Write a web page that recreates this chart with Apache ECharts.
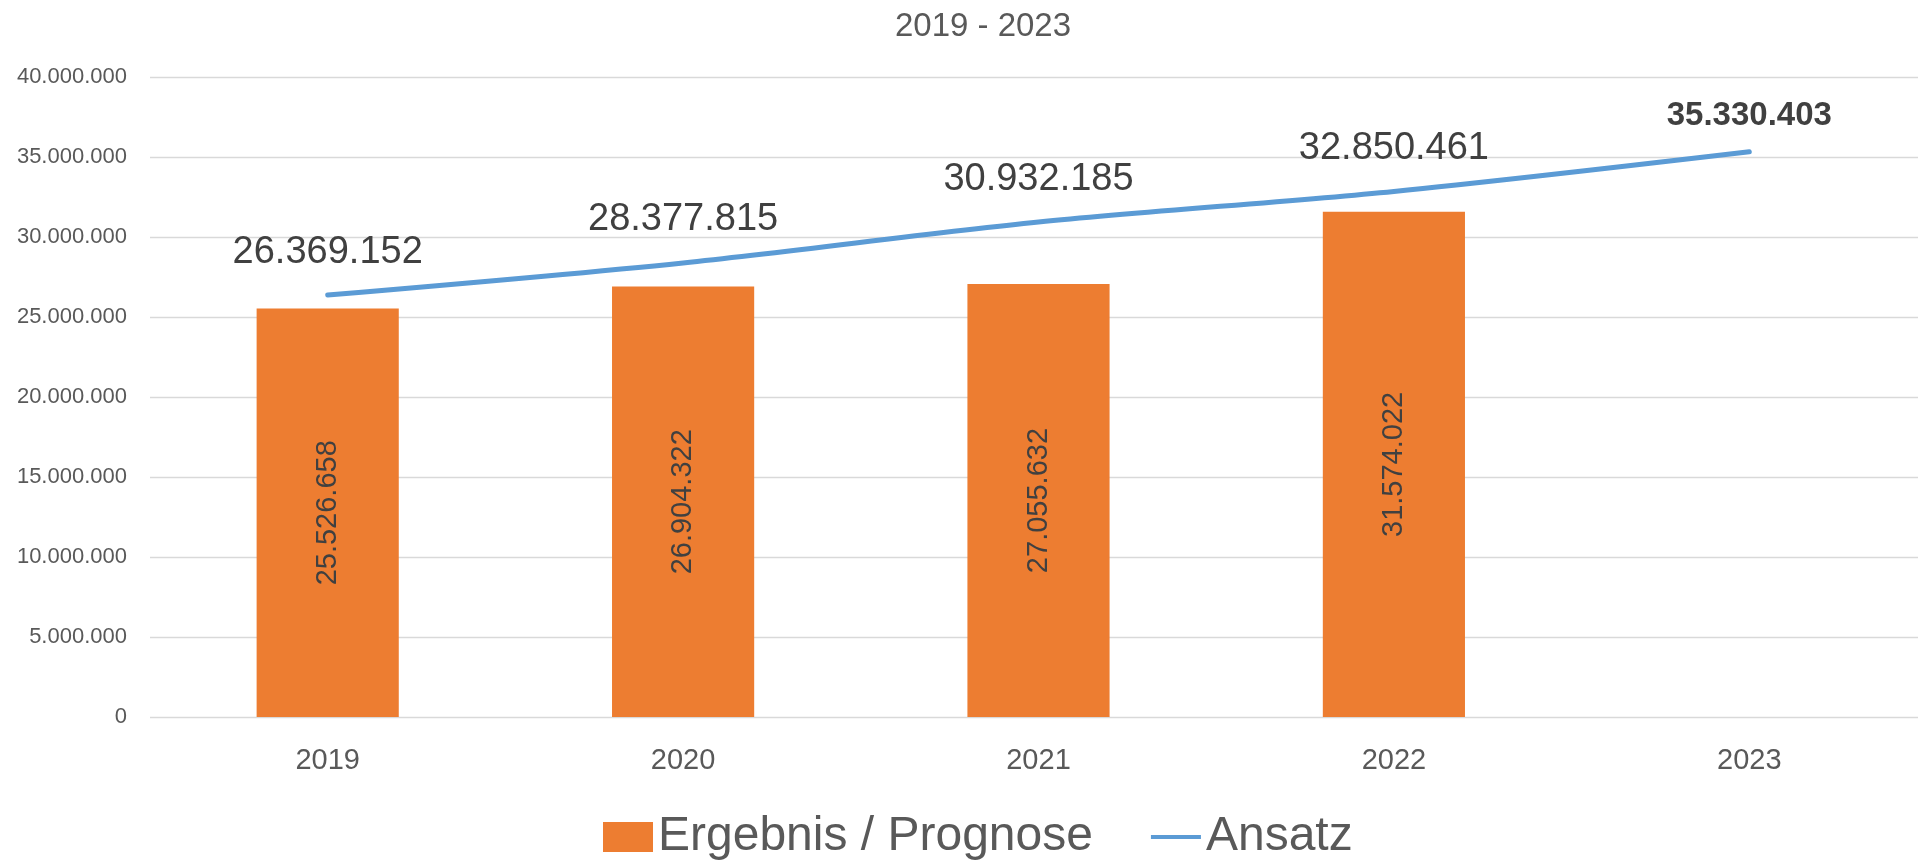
<!DOCTYPE html>
<html>
<head>
<meta charset="utf-8">
<script src="https://cdn.jsdelivr.net/npm/echarts@6/dist/echarts.min.js"></script>
<style>
  html, body { margin: 0; padding: 0; background: #fff; overflow: hidden; }
  #chart { width: 1930px; height: 862px; }
</style>
</head>
<body>
<div id="chart"></div>
<script>
const years = ['2019', '2020', '2021', '2022', '2023']
const ergebnis = [25526658, 26904322, 27055632, 31574022, null]
const ansatz = [26369152, 28377815, 30932185, 32850461, 35330403]
const yTicks = { min: 0, max: 40000000, interval: 5000000 }

const font = '"Liberation Sans", Arial, sans-serif'

// 12345678 -> 12.345.678
function fmt(v) {
  return String(v).replace(/\B(?=(\d{3})+(?!\d))/g, '.')
}

const lineData = ansatz.map((v, i) => {
  if (i === ansatz.length - 1) {
    return { value: v, label: { fontWeight: 'bold', fontSize: 33, distance: 19 } }
  }
  return v
})

const chart = echarts.init(document.getElementById('chart'))
chart.setOption({
  animation: false,
  textStyle: { fontFamily: font },
  title: {
    text: '2019 - 2023',
    left: 978,
    top: 5,
    textAlign: 'center',
    textStyle: { fontFamily: font, fontSize: 33, fontWeight: 'normal', color: '#595959' }
  },
  grid: { left: 150, width: 1777, top: 77, bottom: 145, containLabel: false },
  legend: {
    data: [
      { name: 'Ergebnis / Prognose', icon: 'rect' },
      { name: 'Ansatz', icon: 'path://M0,0 L50,0 L50,4 L0,4 Z' }
    ],
    left: 598,
    top: 808,
    itemWidth: 50,
    itemHeight: 30,
    itemGap: 58,
    textStyle: { fontFamily: font, fontSize: 48, color: '#595959' }
  },
  xAxis: {
    type: 'category',
    data: years,
    axisLine: { show: false },
    axisTick: { show: false },
    axisLabel: { margin: 29, fontSize: 29, color: '#595959', fontFamily: font }
  },
  yAxis: {
    type: 'value',
    min: yTicks.min,
    max: yTicks.max,
    interval: yTicks.interval,
    axisLine: { show: false },
    axisTick: { show: false },
    axisLabel: { margin: 23, fontSize: 22, color: '#595959', fontFamily: font, formatter: fmt },
    splitLine: { lineStyle: { color: '#D9D9D9', width: 1.3 } }
  },
  series: [
    {
      name: 'Ergebnis / Prognose',
      type: 'bar',
      data: ergebnis,
      barWidth: '40%',
      itemStyle: { color: '#ED7D31' },
      label: {
        show: true,
        position: 'inside',
        rotate: 90,
        fontSize: 29,
        color: '#404040',
        fontFamily: font,
        formatter: p => fmt(p.value)
      }
    },
    {
      name: 'Ansatz',
      type: 'line',
      data: lineData,
      smooth: 0.3,
      symbol: 'circle',
      symbolSize: 0.1,
      itemStyle: { color: '#5B9BD5' },
      lineStyle: { color: '#5B9BD5', width: 5, cap: 'round' },
      label: {
        show: true,
        position: 'top',
        distance: 24,
        fontSize: 38,
        color: '#404040',
        fontFamily: font,
        formatter: p => fmt(p.value)
      },
      z: 3
    }
  ]
})
</script>
</body>
</html>
